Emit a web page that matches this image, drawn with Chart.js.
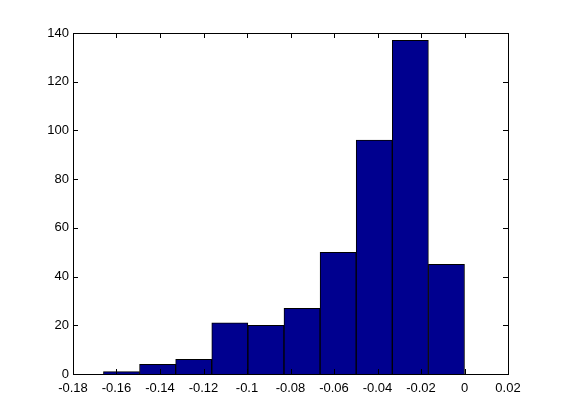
<!DOCTYPE html>
<html>
<head>
<meta charset="utf-8">
<script src="https://cdn.jsdelivr.net/npm/chart.js@4/dist/chart.umd.min.js"></script>
<style>
    html, body { margin: 0; padding: 0; background: #fff; }
    #wrap { width: 561px; height: 420px; }
</style>
</head>
<body>
<div id="wrap"><canvas id="hist" width="561" height="420"></canvas></div>
<script>
// histogram bins (centres) and counts
const binCenters = [-0.1577, -0.1411, -0.1245, -0.1079, -0.0913, -0.0747, -0.0581, -0.0415, -0.0249, -0.0083];
const counts = [1, 4, 6, 21, 20, 27, 50, 96, 137, 45];
const xTicks = [-0.18, -0.16, -0.14, -0.12, -0.1, -0.08, -0.06, -0.04, -0.02, 0, 0.02];
const yTicks = [0, 20, 40, 60, 80, 100, 120, 140];

const fmt = v => String(Number(v.toFixed(2)));

// MATLAB style: box round the axes, ticks pointing inward on all four sides
const boxTicks = {
    id: "boxTicks",
    afterDatasetsDraw(chart) {
        const { ctx, chartArea: a, scales } = chart;
        const len = 5;
        ctx.save();
        ctx.strokeStyle = "#000";
        ctx.lineWidth = 1;
        ctx.beginPath();
        xTicks.forEach(v => {
            const x = Math.round(scales.x.getPixelForValue(v)) + 0.5;
            ctx.moveTo(x, a.bottom); ctx.lineTo(x, a.bottom - len);
            ctx.moveTo(x, a.top); ctx.lineTo(x, a.top + len);
        });
        yTicks.forEach(v => {
            const y = Math.round(scales.y.getPixelForValue(v)) + 0.5;
            ctx.moveTo(a.left, y); ctx.lineTo(a.left + len, y);
            ctx.moveTo(a.right, y); ctx.lineTo(a.right - len, y);
        });
        ctx.stroke();
        ctx.strokeRect(Math.round(a.left) + 0.5, Math.round(a.top) + 0.5,
            Math.round(a.right - a.left), Math.round(a.bottom - a.top));
        ctx.restore();
    }
};

new Chart(document.getElementById("hist"), {
    type: "bar",
    data: {
        datasets: [{
            data: binCenters.map((x, i) => ({ x: x, y: counts[i] })),
            backgroundColor: "#00008f",
            borderColor: "#000",
            borderWidth: 1,
            barPercentage: 1,
            categoryPercentage: 1,
            grouped: false
        }]
    },
    options: {
        responsive: false,
        animation: false,
        layout: { padding: { top: 33, right: 53, left: 0, bottom: 0 } },
        plugins: { legend: { display: false }, tooltip: { enabled: false } },
        scales: {
            x: {
                type: "linear",
                offset: false,
                min: -0.18,
                max: 0.02,
                afterBuildTicks: s => { s.ticks = xTicks.map(v => ({ value: v })); },
                afterFit: s => { s.height = 46; },
                grid: { display: false, drawTicks: false, offset: false },
                border: { display: false },
                ticks: {
                    callback: v => fmt(v),
                    color: "#000",
                    padding: 7,
                    maxRotation: 0,
                    autoSkip: false,
                    font: { family: "Arial, 'Liberation Sans'", size: 13 }
                }
            },
            y: {
                min: 0,
                max: 140,
                afterBuildTicks: s => { s.ticks = yTicks.map(v => ({ value: v })); },
                afterFit: s => { s.width = 73; },
                grid: { display: false, drawTicks: false },
                border: { display: false },
                ticks: {
                    color: "#000",
                    padding: 4,
                    font: { family: "Arial, 'Liberation Sans'", size: 13 }
                }
            }
        }
    },
    plugins: [boxTicks]
});
</script>
</body>
</html>
